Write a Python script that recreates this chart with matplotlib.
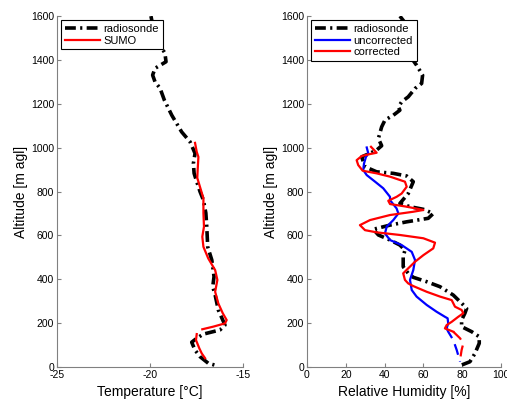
import numpy as np
import matplotlib.pyplot as plt

plt.rcParams['font.family'] = ['Liberation Sans', 'DejaVu Sans']
plt.rcParams['axes.unicode_minus'] = False

# radiosonde temperature profile
sonde_alt = [1600, 1505, 1431, 1392, 1362, 1331, 1300, 1271, 1217, 1148, 1072, 1027, 974, 928,
             883, 845, 799, 761, 702, 640, 548, 488, 412, 366, 328, 260, 191, 169, 150, 131,
             113, 77, 47, 17, 6]
sonde_temp = [-19.95, -19.73, -19.2, -19.14, -19.73, -19.86, -19.73, -19.46, -19.23, -18.83,
              -18.3, -17.85, -17.58, -17.67, -17.63, -17.49, -17.31, -17.13, -17.0, -16.95,
              -16.9, -16.68, -16.56, -16.63, -16.5, -16.33, -15.97, -16.24, -17.13, -17.49,
              -17.76, -17.58, -17.31, -16.87, -16.41]

# SUMO temperature (gap between 172 m and 150 m)
sumo_alt = [1022, 981, 958, 898, 862, 837, 769, 702, 640, 594, 548, 495, 442, 397, 343, 290,
            245, 214, 199, 184, 172, np.nan, 150, 123, 85, 62, 40]
sumo_temp = [-17.58, -17.49, -17.4, -17.44, -17.46, -17.37, -17.13, -17.13, -17.1, -17.19,
             -17.13, -16.87, -16.5, -16.38, -16.5, -16.33, -16.09, -15.88, -15.97, -16.6,
             -17.19, np.nan, -17.49, -17.53, -17.35, -17.22, -17.04]

# radiosonde relative humidity
sonde_rh_alt = [1600, 1551, 1414, 1376, 1331, 1293, 1270, 1232, 1209, 1186, 1171, 1148, 1126,
                1095, 1042, 1009, 989, 975, 958, 913, 890, 883, 871, 845, 791, 746, 731, 719,
                700, 678, 662, 647, 628, 602, 579, 556, 533, 503, 457, 427, 409, 389, 366,
                328, 283, 267, 245, 214, 184, 161, 138, 108, 62, 24, 9]
sonde_rh = [47.9, 52.2, 53.4, 56.5, 59.6, 59.1, 55.7, 52.2, 48.8, 47.1, 47.9, 44.5, 40.2,
            38.5, 36.8, 38.5, 35.9, 32.5, 28.2, 29.9, 35.9, 44.5, 51.4, 54.8, 52.2, 47.9,
            53.1, 60.0, 65.1, 62.5, 51.4, 42.8, 34.2, 36.8, 42.8, 47.9, 50.5, 49.6, 49.6,
            52.2, 54.8, 61.7, 68.6, 75.4, 80.6, 82.3, 81.4, 79.7, 79.7, 84.9, 88.8, 88.8,
            86.6, 84.0, 79.7]

# SUMO uncorrected RH (solid above ~170 m, dashed below)
unc_alt = [1001, 974, 958, 928, 898, 875, 845, 815, 776, 761, 723, 700, 670, 640, 609, 579,
           556, 525, 488, 442, 397, 351, 321, 283, 252, 229, 222, 199, 176]
unc_rh = [30.8, 31.6, 30.4, 29.4, 29.0, 30.8, 35.1, 39.3, 42.8, 42.8, 46.2, 47.1, 44.5, 41.1,
          40.2, 42.8, 48.8, 54.0, 55.7, 54.8, 53.1, 54.0, 56.5, 61.7, 66.8, 71.1, 72.5, 72.8,
          72.0]
unc_low_alt = [176, 161, 123, 77, 24]
unc_low_rh = [72.0, 72.8, 75.4, 77.2, 78.9]

# SUMO corrected RH
cor_alt = [1004, 977, 971, 962, 943, 921, 895, 883, 868, 845, 822, 791, 776, 758, 743, 731,
           716, 708, 693, 670, 647, 624, 614, 602, 587, 567, 541, 510, 480, 450, 427, 397,
           381, 369, 343, 321, 305, 275, 260, 245, 229, 206, 191, 176, 161]
cor_rh = [33.0, 35.9, 32.5, 28.2, 25.6, 26.4, 28.7, 35.9, 42.8, 50.5, 51.4, 48.8, 46.2, 41.9,
          42.8, 51.4, 60.0, 54.8, 42.8, 32.5, 27.3, 29.9, 35.9, 47.9, 60.0, 66.0, 65.1, 60.0,
          55.7, 52.2, 49.6, 50.5, 52.2, 54.8, 61.7, 68.6, 74.6, 76.3, 79.7, 80.6, 78.0, 74.6,
          72.0, 71.1, 75.4]
cor_low_alt = [161, 131, 108, 77, 32]
cor_low_rh = [75.4, 78.9, 80.6, 79.7, 78.9]

sonde_style = dict(color='black', lw=2.6, linestyle=(0, (3, 1.2, 0.6, 1.2)))

fig = plt.figure(figsize=(5.07, 4.01), dpi=100)
ax1 = fig.add_axes([0.1124, 0.0848, 0.367, 0.875])
ax2 = fig.add_axes([0.6055, 0.0848, 0.3826, 0.875])

ax1.plot(sonde_temp, sonde_alt, label='radiosonde', **sonde_style)
ax1.plot(sumo_temp, sumo_alt, color='red', lw=1.6, label='SUMO')
ax1.set_xlim(-25, -15)
ax1.set_xticks([-25, -20, -15])
ax1.set_xlabel('Temperature [°C]', fontsize=10)

ax2.plot(sonde_rh, sonde_rh_alt, label='radiosonde', **sonde_style)
ax2.plot(unc_rh, unc_alt, color='blue', lw=1.6, label='uncorrected')
ax2.plot(unc_low_rh, unc_low_alt, color='blue', lw=1.6, linestyle=(0, (5, 3)))
ax2.plot(cor_rh, cor_alt, color='red', lw=1.6, label='corrected')
ax2.plot(cor_low_rh, cor_low_alt, color='red', lw=1.6, linestyle=(0, (5, 3)))
ax2.set_xlim(0, 100)
ax2.set_xticks(range(0, 101, 20))
ax2.set_xlabel('Relative Humidity [%]', fontsize=10)

for ax in (ax1, ax2):
    ax.set_ylim(0, 1600)
    ax.set_yticks(range(0, 1601, 200))
    ax.set_ylabel('Altitude [m agl]', fontsize=10, labelpad=2)
    for s in ('top', 'right'):
        ax.spines[s].set_visible(False)
    for s in ('left', 'bottom'):
        ax.spines[s].set_color('#808080')
    ax.tick_params(labelsize=7.5, direction='in', length=3, color='#808080', pad=2)
    leg = ax.legend(loc='upper left', fontsize=8, fancybox=False, framealpha=1,
                    borderpad=0.35, labelspacing=0.15, handlelength=3.2, handletextpad=0.3,
                    borderaxespad=0.35)
    leg.get_frame().set_edgecolor('black')
    leg.get_frame().set_linewidth(0.8)

fig.savefig('out.png', dpi=100)
